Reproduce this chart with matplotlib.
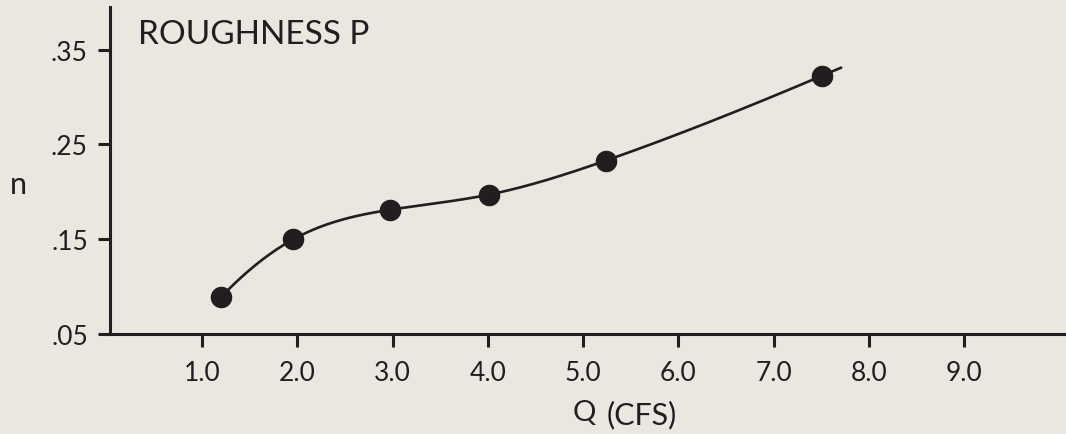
import numpy as np
import matplotlib
matplotlib.use("Agg")
import matplotlib.pyplot as plt

# discharge Q (cfs) and Manning's n for roughness P
q_cfs = [1.20, 1.96, 2.97, 4.01, 5.24, 7.51]
n_vals = [0.089, 0.150, 0.181, 0.197, 0.233, 0.3225]
# the drawn curve runs a little past the last point
curve_end = (7.71, 0.331)
# slope of the curve where it starts and where it ends (n per cfs)
start_slope = 0.105
end_slope = 0.042

x_ticks = [1, 2, 3, 4, 5, 6, 7, 8, 9]
x_labels = ["1.0", "2.0", "3.0", "4.0", "5.0", "6.0", "7.0", "8.0", "9.0"]
y_ticks = [0.05, 0.15, 0.25, 0.35]
y_labels = [".05", ".15", ".25", ".35"]

bg = "#ebe6e0"
ink = "#221e1f"
plt.rcParams["font.family"] = ["Lato", "DejaVu Sans"]


def clamped_spline(xs, ys, s0, s1, n=300):
    # cubic spline y(x) through the points with fixed end slopes
    x = np.asarray(xs, float)
    y = np.asarray(ys, float)
    k = len(x)
    h = np.diff(x)
    A = np.zeros((k, k))
    b = np.zeros(k)
    A[0, 0], A[0, 1] = 2 * h[0], h[0]
    b[0] = 6 * ((y[1] - y[0]) / h[0] - s0)
    A[-1, -2], A[-1, -1] = h[-1], 2 * h[-1]
    b[-1] = 6 * (s1 - (y[-1] - y[-2]) / h[-1])
    for i in range(1, k - 1):
        A[i, i - 1] = h[i - 1]
        A[i, i] = 2 * (h[i - 1] + h[i])
        A[i, i + 1] = h[i]
        b[i] = 6 * ((y[i + 1] - y[i]) / h[i] - (y[i] - y[i - 1]) / h[i - 1])
    m = np.linalg.solve(A, b)
    xx = np.linspace(x[0], x[-1], n)
    idx = np.clip(np.searchsorted(x, xx) - 1, 0, k - 2)
    x0, x1 = x[idx], x[idx + 1]
    hh = x1 - x0
    t0, t1 = x1 - xx, xx - x0
    yy = (m[idx] * t0 ** 3 / (6 * hh) + m[idx + 1] * t1 ** 3 / (6 * hh)
          + (y[idx] / hh - m[idx] * hh / 6) * t0
          + (y[idx + 1] / hh - m[idx + 1] * hh / 6) * t1)
    return xx, yy


fig = plt.figure(figsize=(10.66, 4.35), dpi=100, facecolor=bg)
ax = fig.add_axes([0.1032, 0.2299, 0.8968, 0.7517])
ax.set_facecolor(bg)

cx, cy = clamped_spline(q_cfs + [curve_end[0]], n_vals + [curve_end[1]],
                        start_slope, end_slope)
ax.plot(cx, cy, color=ink, lw=1.9, solid_capstyle="round", clip_on=False)
ax.plot(q_cfs, n_vals, "o", color=ink, ms=14.5, clip_on=False)

ax.set_xlim(0.034, 10.07)
ax.set_ylim(0.05, 0.395)

for s in ["top", "right"]:
    ax.spines[s].set_visible(False)
for s in ["left", "bottom"]:
    ax.spines[s].set_linewidth(2.2)
    ax.spines[s].set_color(ink)

ax.set_xticks(x_ticks)
ax.set_xticklabels(x_labels)
ax.set_yticks(y_ticks)
ax.set_yticklabels(y_labels)
ax.tick_params(axis="both", direction="out", length=9, width=2.2,
               color=ink, labelcolor=ink, labelsize=19)
ax.tick_params(axis="x", pad=10)
ax.tick_params(axis="y", pad=7)

fig.text(0.129, 0.92, "ROUGHNESS P", fontsize=24, color=ink, va="center")
fig.text(0.009, 0.575, "n", fontsize=22, color=ink, va="center")
fig.text(0.548, 0.050, "Q", fontsize=21, color=ink, va="center", ha="center")
fig.text(0.569, 0.046, "(CFS)", fontsize=22, color=ink, va="center", ha="left")

fig.savefig("out.png", dpi=100, facecolor=bg)
